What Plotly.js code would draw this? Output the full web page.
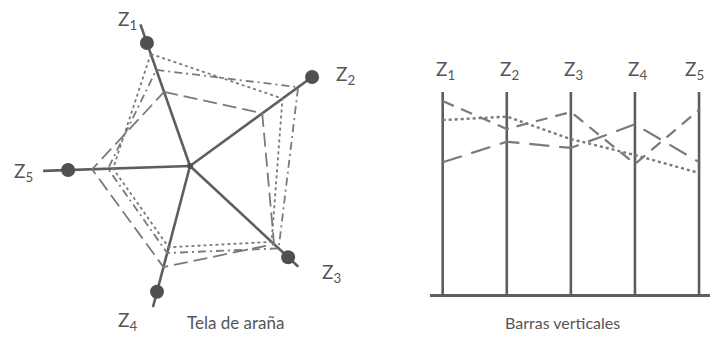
<!DOCTYPE html>
<html>
<head>
<meta charset="utf-8">
<script src="https://cdn.plot.ly/plotly-3.0.1.min.js"></script>
<style>html,body{margin:0;padding:0;background:#fff;}#chart{width:710px;height:337px;}</style>
</head>
<body>
<div id="chart"></div>
<script>
// ---------- data ----------
const categories = ['Z<sub>1</sub>', 'Z<sub>2</sub>', 'Z<sub>3</sub>', 'Z<sub>4</sub>', 'Z<sub>5</sub>'];

// Spider web (tela de araña): axis directions (degrees) and values
const spiderAngles = [109.3, 36.1, 317.1, 255.3, 181.9];
const spokeLength = [10.0, 10.07, 9.86, 9.73, 9.8];
const dotRadius = [8.69, 10.07, 8.93, 8.67, 8.13];
const spiderDotted = [7.91, 7.63, 7.43, 5.6, 5.13];
const spiderDashDot = [6.79, 8.92, 8.07, 6.0, 5.47];
const spiderLongDash = [5.23, 5.96, 7.65, 6.97, 6.53];

// Vertical bars (barras verticales)
const barPositions = [1, 2, 3, 4, 5];
const barTop = 10;
const barDotted = [8.61, 8.78, 7.67, 6.88, 5.99];
const barMediumDash = [9.55, 8.17, 9.01, 6.44, 9.11];
const barLongDash = [6.52, 7.54, 7.23, 8.40, 6.53];

// ---------- styling ----------
const W = 710, H = 337;
const px = x => x / W;
const py = y => 1 - y / H;
const axisColor = '#5e5e5e';
const seriesColor = '#7a7a7a';
const textColor = '#555555';
const fontFam = 'Lato, "Open Sans", sans-serif';

const closed = a => a.concat([a[0]]);
const traces = [];

// spokes
spiderAngles.forEach((a, i) => {
  traces.push({type: 'scatterpolar', subplot: 'polar', mode: 'lines',
    r: [0, spokeLength[i]], theta: [a, a],
    line: {color: axisColor, width: 2.6}, hoverinfo: 'skip'});
});
// series polygons
traces.push({type: 'scatterpolar', subplot: 'polar', mode: 'lines',
  r: closed(spiderDotted), theta: closed(spiderAngles),
  line: {color: seriesColor, width: 1.8, dash: 'dot'}, hoverinfo: 'skip'});
traces.push({type: 'scatterpolar', subplot: 'polar', mode: 'lines',
  r: closed(spiderDashDot), theta: closed(spiderAngles),
  line: {color: seriesColor, width: 1.8, dash: '8px,4px,2px,4px'}, hoverinfo: 'skip'});
traces.push({type: 'scatterpolar', subplot: 'polar', mode: 'lines',
  r: closed(spiderLongDash), theta: closed(spiderAngles),
  line: {color: seriesColor, width: 1.8, dash: '14px,6px'}, hoverinfo: 'skip'});
// dots on spokes
traces.push({type: 'scatterpolar', subplot: 'polar', mode: 'markers',
  r: dotRadius, theta: spiderAngles,
  marker: {color: '#505050', size: 14}, hoverinfo: 'skip'});
// centre
traces.push({type: 'scatterpolar', subplot: 'polar', mode: 'markers',
  r: [0], theta: [0], marker: {color: '#505050', size: 6}, hoverinfo: 'skip'});

// vertical bars
barPositions.forEach(x => {
  traces.push({type: 'scatter', mode: 'lines', x: [x, x], y: [0, barTop],
    line: {color: axisColor, width: 2.6}, hoverinfo: 'skip', cliponaxis: false});
});
traces.push({type: 'scatter', mode: 'lines', x: barPositions, y: barDotted,
  line: {color: seriesColor, width: 2.4, dash: 'dot'}, hoverinfo: 'skip', cliponaxis: false});
traces.push({type: 'scatter', mode: 'lines', x: barPositions, y: barMediumDash,
  line: {color: seriesColor, width: 2.2, dash: '12px,8px'}, hoverinfo: 'skip', cliponaxis: false});
traces.push({type: 'scatter', mode: 'lines', x: barPositions, y: barLongDash,
  line: {color: seriesColor, width: 2.2, dash: '20px,10px'}, hoverinfo: 'skip', cliponaxis: false});

// ---------- annotations ----------
const spiderLabelPx = [[127, 20], [345, 75], [331, 273], [127, 321], [24, 172]];
const barLabelShift = [3, 3, 3, 3, -5];
const annotations = [];
categories.forEach((c, i) => {
  annotations.push({xref: 'paper', yref: 'paper', x: px(spiderLabelPx[i][0]), y: py(spiderLabelPx[i][1]),
    text: c, showarrow: false, xanchor: 'center', yanchor: 'middle',
    font: {family: fontFam, size: 19, color: textColor}});
  annotations.push({xref: 'x', yref: 'paper', x: barPositions[i], y: py(70), xshift: barLabelShift[i],
    text: c, showarrow: false, xanchor: 'center', yanchor: 'middle',
    font: {family: fontFam, size: 19, color: textColor}});
});
annotations.push({xref: 'paper', yref: 'paper', x: px(236), y: py(322), text: 'Tela de araña',
  showarrow: false, xanchor: 'center', yanchor: 'middle', font: {family: fontFam, size: 17, color: textColor}});
annotations.push({xref: 'paper', yref: 'paper', x: px(562), y: py(322), text: 'Barras verticales',
  showarrow: false, xanchor: 'center', yanchor: 'middle', font: {family: fontFam, size: 16, color: textColor}});

const layout = {
  width: W, height: H,
  margin: {l: 0, r: 0, t: 0, b: 0},
  paper_bgcolor: '#ffffff', plot_bgcolor: 'rgba(0,0,0,0)',
  showlegend: false,
  polar: {
    domain: {x: [px(25), px(355)], y: [py(331), py(1)]},
    bgcolor: 'rgba(0,0,0,0)',
    radialaxis: {range: [0, 11], visible: false},
    angularaxis: {visible: false, rotation: 0, direction: 'counterclockwise'}
  },
  xaxis: {domain: [px(430), 1], range: [0.802, 5.171], showgrid: false, zeroline: false,
    showticklabels: false, ticks: '', showline: true, linecolor: axisColor, linewidth: 3},
  yaxis: {domain: [py(294), py(92)], range: [0, 10], showgrid: false, zeroline: false,
    showticklabels: false, ticks: '', showline: false},
  annotations: annotations
};

Plotly.newPlot('chart', traces, layout, {staticPlot: true, displayModeBar: false});
</script>
</body>
</html>
